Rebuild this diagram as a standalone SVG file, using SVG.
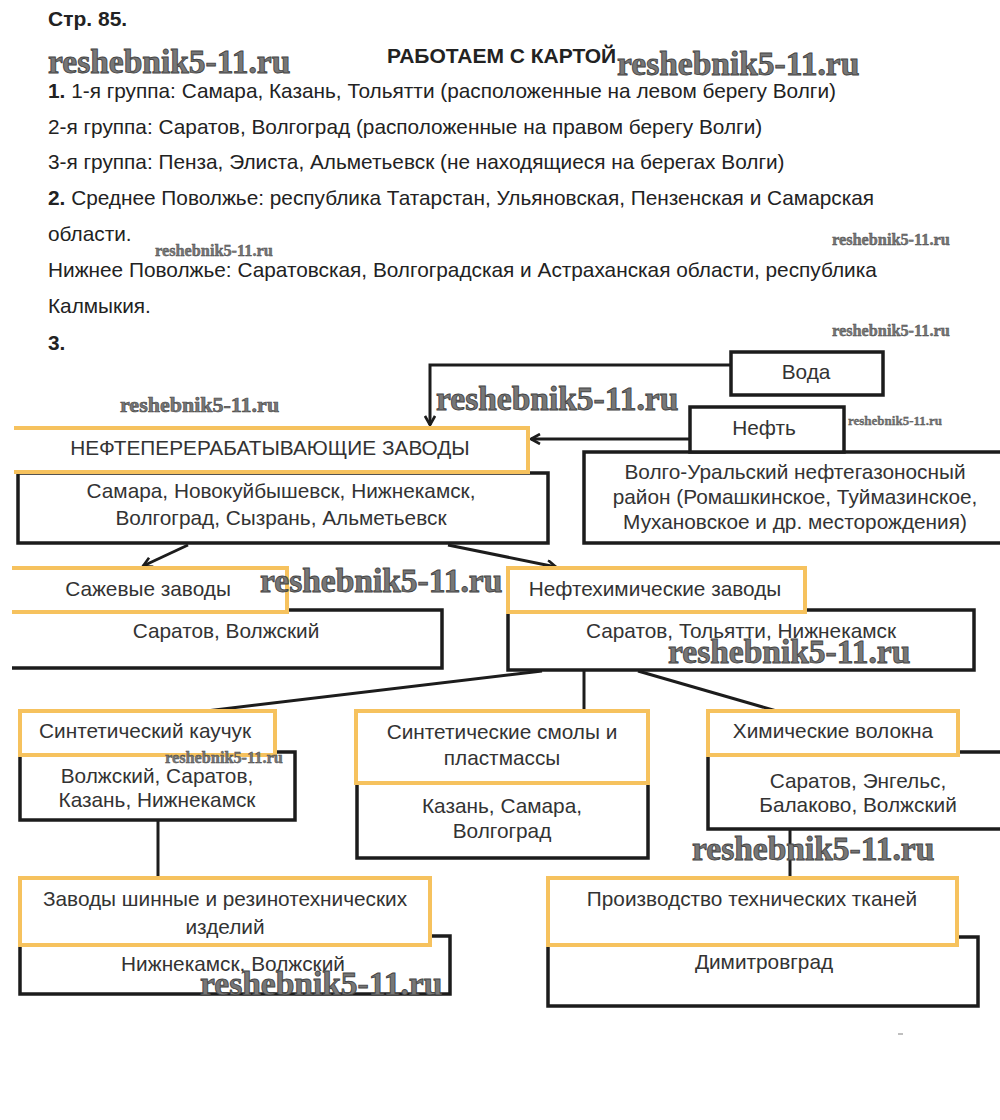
<svg xmlns="http://www.w3.org/2000/svg" width="1000" height="1120" viewBox="0 0 1000 1120">
<defs>
<style>
.t{font-family:"Liberation Sans",Arial,sans-serif;font-size:20.8px;fill:#222}
.b{font-weight:bold}
.h{font-family:"Liberation Sans",Arial,sans-serif;font-size:21px;font-weight:bold;fill:#222}
.n{font-family:"Liberation Sans",Arial,sans-serif;font-size:20.8px;fill:#333;text-anchor:middle}
.wm{font-family:"Liberation Serif","Times New Roman",serif;font-weight:bold;fill:#777;stroke:#444;stroke-width:0.9}
.ob{fill:#fff;stroke:#f6c25e;stroke-width:4}
.bb{fill:#fff;stroke:#1c1c1c;stroke-width:3.5}
.ln{fill:none;stroke:#1c1c1c;stroke-width:3}
</style>
<marker id="ah" viewBox="0 0 12 12" refX="10" refY="6" markerWidth="12" markerHeight="12" markerUnits="userSpaceOnUse" orient="auto">
<path d="M1,1 L10,6 L1,11" fill="none" stroke="#1c1c1c" stroke-width="2.6"/>
</marker>
</defs>
<rect width="1000" height="1120" fill="#fff"/>

<g id="header">
<text class="h" x="48" y="26">Стр. 85.</text>
<text class="h" x="387" y="63">РАБОТАЕМ С КАРТОЙ</text>
<text class="t" x="48" y="98"><tspan class="b">1.</tspan> 1-я группа: Самара, Казань, Тольятти (расположенные на левом берегу Волги)</text>
<text class="t" x="48" y="134">2-я группа: Саратов, Волгоград (расположенные на правом берегу Волги)</text>
<text class="t" x="48" y="169">3-я группа: Пенза, Элиста, Альметьевск (не находящиеся на берегах Волги)</text>
<text class="t" x="48" y="205"><tspan class="b">2.</tspan> Среднее Поволжье: республика Татарстан, Ульяновская, Пензенская и Самарская</text>
<text class="t" x="48" y="241">области.</text>
<text class="t" x="48" y="277">Нижнее Поволжье: Саратовская, Волгоградская и Астраханская области, республика</text>
<text class="t" x="48" y="313">Калмыкия.</text>
<text class="t b" x="48" y="350">3.</text>
</g>

<g id="connectors">
<path class="ln" d="M731,365 H430 V425" marker-end="url(#ah)"/>
<path class="ln" d="M690,439 H531" marker-end="url(#ah)"/>
<path class="ln" d="M188,545 L143,566" marker-end="url(#ah)"/>
<path class="ln" d="M448,545 L556,567" marker-end="url(#ah)"/>
<path class="ln" d="M542,671 L198,712"/>
<path class="ln" d="M584,671 V712"/>
<path class="ln" d="M638,671 L780,712"/>
<path class="ln" d="M158,821 V878"/>
<path class="ln" d="M790,829 V878"/>
</g>

<g id="voda">
<rect class="bb" x="731" y="352" width="152" height="43"/>
<text class="n" x="806" y="379">Вода</text>
</g>

<g id="volgo-ural">
<path class="bb" d="M1002,452 H584 V543 H1002"/>
<text class="n" x="795" y="479">Волго-Уральский нефтегазоносный</text>
<text class="n" x="795" y="504">район (Ромашкинское, Туймазинское,</text>
<text class="n" x="795" y="529">Мухановское и др. месторождения)</text>
</g>

<g id="neft">
<rect class="bb" x="690" y="407" width="154" height="45"/>
<text class="n" x="764" y="435">Нефть</text>
</g>

<g id="npz">
<rect class="bb" x="18" y="473" width="530" height="70"/>
<text class="n" x="281" y="498">Самара, Новокуйбышевск, Нижнекамск,</text>
<text class="n" x="281" y="525">Волгоград, Сызрань, Альметьевск</text>
<path class="ob" d="M14,428 H528 V472 H14 Z" style="stroke:none"/>
<path class="ob" d="M14,428 H528 V472 H14" style="fill:none"/>
<text class="n" x="270" y="455">НЕФТЕПЕРЕРАБАТЫВАЮЩИЕ ЗАВОДЫ</text>
</g>

<g id="sazhevye">
<path class="bb" d="M12,610 H442 V668 H12"/>
<text class="n" x="226" y="638">Саратов, Волжский</text>
<path class="ob" d="M12,568 H287 V612 H12 Z" style="stroke:none"/>
<path class="ob" d="M12,568 H287 V612 H12" style="fill:none"/>
<text class="n" x="148" y="596">Сажевые заводы</text>
</g>

<g id="neftekhim">
<rect class="bb" x="508" y="610" width="466" height="60"/>
<text class="n" x="741" y="638">Саратов, Тольятти, Нижнекамск</text>
<rect class="ob" x="508" y="568" width="297" height="44"/>
<text class="n" x="655" y="596">Нефтехимические заводы</text>
</g>

<g id="kauchuk">
<rect class="bb" x="20" y="752" width="275" height="68"/>
<text class="n" x="157" y="783">Волжский, Саратов,</text>
<text class="n" x="157" y="807">Казань, Нижнекамск</text>
<rect class="ob" x="20" y="711" width="255" height="44"/>
<text class="n" x="145" y="738">Синтетический каучук</text>
</g>

<g id="smoly">
<rect class="bb" x="357" y="780" width="291" height="78"/>
<text class="n" x="502" y="813">Казань, Самара,</text>
<text class="n" x="502" y="838">Волгоград</text>
<rect class="ob" x="356" y="711" width="292" height="72"/>
<text class="n" x="502" y="739">Синтетические смолы и</text>
<text class="n" x="502" y="765">пластмассы</text>
</g>

<g id="volokna">
<path class="bb" d="M1002,752 H708 V829 H1002"/>
<text class="n" x="858" y="788">Саратов, Энгельс,</text>
<text class="n" x="858" y="812">Балаково, Волжский</text>
<rect class="ob" x="708" y="711" width="250" height="44"/>
<text class="n" x="833" y="738">Химические волокна</text>
</g>

<g id="shinnye">
<rect class="bb" x="20" y="936" width="430" height="58"/>
<text class="n" x="233" y="971">Нижнекамск, Волжский</text>
<rect class="ob" x="20" y="878" width="410" height="67"/>
<text class="n" x="225" y="906">Заводы шинные и резинотехнических</text>
<text class="n" x="225" y="934">изделий</text>
</g>

<g id="tkani">
<rect class="bb" x="548" y="937" width="430" height="69"/>
<text class="n" x="764" y="969">Димитровград</text>
<rect class="ob" x="548" y="878" width="409" height="67"/>
<text class="n" x="752" y="906">Производство технических тканей</text>
</g>

<g id="watermarks">
<text class="wm" x="48" y="73" font-size="33.5">reshebnik5-11.ru</text>
<text class="wm" x="617" y="75" font-size="33.5">reshebnik5-11.ru</text>
<text class="wm" x="155" y="256" font-size="16.3" style="stroke-width:0.4">reshebnik5-11.ru</text>
<text class="wm" x="832" y="245" font-size="16.3" style="stroke-width:0.4">reshebnik5-11.ru</text>
<text class="wm" x="832" y="336" font-size="16.3" style="stroke-width:0.4">reshebnik5-11.ru</text>
<text class="wm" x="120" y="412" font-size="22" style="stroke-width:0.6">reshebnik5-11.ru</text>
<text class="wm" x="436" y="410" font-size="33.5">reshebnik5-11.ru</text>
<text class="wm" x="848" y="425" font-size="13" style="stroke-width:0.3">reshebnik5-11.ru</text>
<text class="wm" x="260" y="592" font-size="33.5">reshebnik5-11.ru</text>
<text class="wm" x="668" y="663" font-size="33.5">reshebnik5-11.ru</text>
<text class="wm" x="165" y="763" font-size="16.3" style="stroke-width:0.4">reshebnik5-11.ru</text>
<text class="wm" x="692" y="860" font-size="33.5">reshebnik5-11.ru</text>
<text class="wm" x="200" y="995" font-size="33.5">reshebnik5-11.ru</text>
</g>
<path d="M898,1034 H903" stroke="#aaa" stroke-width="1.5"/>
</svg>
